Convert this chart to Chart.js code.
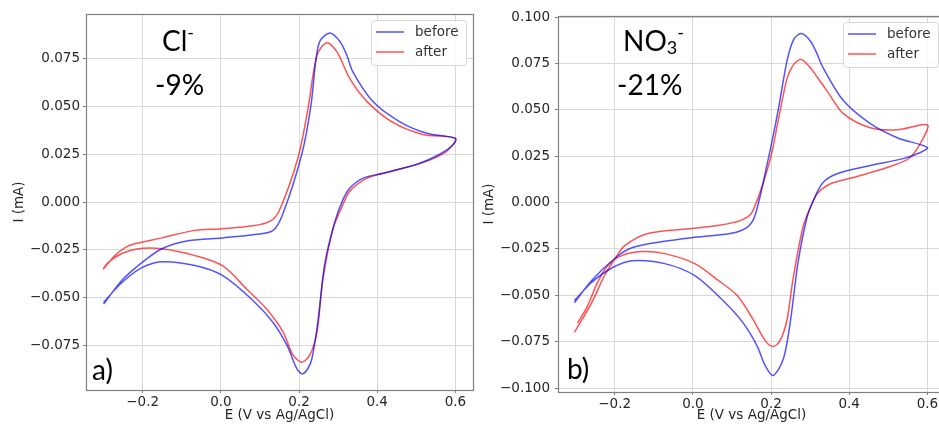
<!DOCTYPE html>
<html>
<head>
<meta charset="utf-8">
<script src="https://cdn.jsdelivr.net/npm/chart.js@4/dist/chart.umd.min.js"></script>
<style>
  html, body { margin: 0; padding: 0; background: #fff; overflow: hidden; width: 939px; height: 424px; }
  canvas { position: absolute; top: 0; }
  #chartCl { left: 0; }
  #chartNo3 { left: 476px; }
</style>
</head>
<body>
<canvas id="chartCl" width="476" height="424"></canvas>
<canvas id="chartNo3" width="472" height="424"></canvas>
<script>
// Cl- panel, forward scan then reverse scan (E in V, I in mA)
const clBeforeE = [-0.300, -0.253, -0.202, -0.151, -0.084, 0.005, 0.082, 0.133, 0.159, 0.207, 0.230, 0.2435, 0.254, 0.279, 0.305, 0.322, 0.338, 0.389, 0.458, 0.527, 0.600, 0.594, 0.560, 0.502, 0.415, 0.364, 0.330, 0.313, 0.292, 0.266, 0.248, 0.233, 0.222, 0.210, 0.200, 0.190, 0.169, 0.133, 0.082, 0.005, -0.066, -0.151, -0.202, -0.253, -0.300];
const clBeforeI = [-0.0535, -0.041, -0.0318, -0.0245, -0.0203, -0.0188, -0.0172, -0.015, -0.006, 0.025, 0.050, 0.075, 0.0845, 0.0886, 0.084, 0.077, 0.068, 0.0526, 0.042, 0.036, 0.0333, 0.030, 0.025, 0.0198, 0.0151, 0.0125, 0.0073, 0.0015, -0.010, -0.032, -0.063, -0.082, -0.0875, -0.090, -0.089, -0.0855, -0.075, -0.063, -0.0516, -0.0386, -0.0333, -0.0313, -0.0344, -0.0422, -0.0525];
const clAfterE = [-0.301, -0.271, -0.246, -0.220, -0.151, -0.071, 0.001, 0.082, 0.126, 0.149, 0.197, 0.223, 0.246, 0.271, 0.297, 0.330, 0.374, 0.440, 0.517, 0.600, 0.578, 0.527, 0.440, 0.374, 0.330, 0.313, 0.287, 0.261, 0.246, 0.228, 0.207, 0.184, 0.159, 0.118, 0.067, 0.005, -0.066, -0.151, -0.212, -0.253, -0.289, -0.301];
const clAfterI = [-0.0352, -0.0281, -0.024, -0.0219, -0.0188, -0.015, -0.014, -0.0125, -0.010, -0.0047, 0.0229, 0.049, 0.077, 0.0834, 0.0787, 0.0646, 0.0526, 0.0417, 0.0354, 0.0333, 0.0266, 0.0214, 0.0162, 0.0125, 0.0057, -0.001, -0.014, -0.0406, -0.068, -0.080, -0.0839, -0.080, -0.068, -0.0563, -0.0458, -0.0335, -0.0281, -0.0245, -0.0245, -0.027, -0.0318, -0.0349];

// NO3- panel
const no3BeforeE = [-0.303, -0.259, -0.197, -0.156, -0.077, -0.003, 0.095, 0.138, 0.159, 0.192, 0.218, 0.241, 0.258, 0.277, 0.300, 0.316, 0.333, 0.385, 0.454, 0.523, 0.600, 0.582, 0.538, 0.454, 0.369, 0.333, 0.308, 0.292, 0.269, 0.249, 0.231, 0.205, 0.185, 0.164, 0.128, 0.077, 0.005, -0.072, -0.156, -0.205, -0.259, -0.295, -0.303];
const no3BeforeI = [-0.054, -0.042, -0.0296, -0.0243, -0.021, -0.0189, -0.0167, -0.0135, -0.007, 0.0226, 0.0496, 0.0765, 0.088, 0.0911, 0.0873, 0.081, 0.0728, 0.055, 0.0426, 0.035, 0.0297, 0.027, 0.0237, 0.020, 0.0156, 0.0108, 0.001, -0.008, -0.0323, -0.0647, -0.0846, -0.0932, -0.0879, -0.0771, -0.0647, -0.0528, -0.0394, -0.0329, -0.0313, -0.035, -0.043, -0.051, -0.0528];
const no3AfterE = [-0.303, -0.259, -0.226, -0.197, -0.174, -0.115, -0.003, 0.062, 0.121, 0.151, 0.197, 0.218, 0.241, 0.258, 0.277, 0.300, 0.321, 0.344, 0.385, 0.454, 0.523, 0.600, 0.590, 0.556, 0.497, 0.410, 0.351, 0.318, 0.305, 0.282, 0.256, 0.241, 0.223, 0.205, 0.185, 0.154, 0.113, 0.062, 0.005, -0.072, -0.131, -0.182, -0.218, -0.244, -0.269, -0.295];
const no3AfterI = [-0.070, -0.054, -0.0393, -0.0296, -0.0232, -0.0167, -0.014, -0.0124, -0.0097, -0.0054, 0.0226, 0.044, 0.067, 0.0745, 0.0771, 0.0728, 0.0668, 0.060, 0.048, 0.0404, 0.0393, 0.042, 0.035, 0.0243, 0.0189, 0.0135, 0.010, 0.0048, -0.0005, -0.013, -0.0415, -0.063, -0.0744, -0.0776, -0.0744, -0.063, -0.050, -0.0415, -0.0329, -0.0275, -0.0264, -0.0286, -0.034, -0.043, -0.0555, -0.065];

const potentialTicks = [-0.2, 0, 0.2, 0.4, 0.6];
const clCurrentTicks = [-0.075, -0.05, -0.025, 0, 0.025, 0.05, 0.075];
const no3CurrentTicks = [-0.1, -0.075, -0.05, -0.025, 0, 0.025, 0.05, 0.075, 0.1];
const seriesLabels = ["before", "after"];
const seriesColors = ["rgba(0, 0, 255, 0.68)", "rgba(255, 0, 0, 0.68)"];

const toPoints = (es, is) => es.map((e, k) => ({ x: e, y: is[k] }));
const fmt = (v, d) => (v < 0 ? "\u2212" : "") + Math.abs(v).toFixed(d);

const axisFont = { family: "DejaVu Sans", size: 13.5 };
const textColor = "#262626";
const gridColor = "#d8d8d8";
const spineColor = "#808080";

// frame, legend and the big labels drawn on top of the curves
const panelDecor = {
  id: "panelDecor",
  afterDatasetsDraw(chart, args, o) {
    const { ctx, chartArea: a } = chart;
    ctx.save();
    ctx.strokeStyle = spineColor;
    ctx.lineWidth = 1.2;
    ctx.strokeRect(Math.round(a.left) + 0.5, Math.round(a.top) + 0.5, Math.round(a.right - a.left), Math.round(a.bottom - a.top));

    // legend box
    const bx = a.right - 7 - 95, by = a.top + 6;
    ctx.fillStyle = "rgba(255,255,255,0.85)";
    ctx.strokeStyle = "#d6d6d6";
    ctx.lineWidth = 1;
    ctx.beginPath();
    ctx.roundRect(bx + 0.5, by + 0.5, 95, 45, 3);
    ctx.fill();
    ctx.stroke();
    ctx.font = "13.5px 'DejaVu Sans'";
    ctx.textBaseline = "middle";
    chart.data.datasets.forEach((ds, k) => {
      const ly = by + 12 + k * 20;
      ctx.strokeStyle = ds.borderColor;
      ctx.lineWidth = 1.5;
      ctx.beginPath();
      ctx.moveTo(bx + 5, ly);
      ctx.lineTo(bx + 33, ly);
      ctx.stroke();
      ctx.fillStyle = "#333";
      ctx.fillText(ds.label, bx + 44, ly);
    });

    // ion name with sub/superscripts, change, panel tag
    ctx.fillStyle = "#000";
    ctx.textBaseline = "alphabetic";
    let x = a.left + o.titleX;
    o.title.forEach((p) => {
      ctx.font = (p.s || 28) + "px Lato";
      ctx.fillText(p.t, x, a.top + o.titleY + (p.dy || 0));
      x += ctx.measureText(p.t).width + (p.gap || 0);
    });
    ctx.font = "28px Lato";
    ctx.fillText(o.change, a.left + o.changeX, a.top + o.changeY);
    ctx.fillText(o.tag, a.left + o.tagX, a.bottom - o.tagY);
    ctx.restore();
  },
};

const makePanel = (id, before, after, yTicks, yMin, yMax, lay, deco) =>
  new Chart(document.getElementById(id), {
    type: "scatter",
    data: {
      datasets: [before, after].map((pts, k) => ({
        label: seriesLabels[k],
        data: pts,
        showLine: true,
        borderColor: seriesColors[k],
        borderWidth: 1.5,
        pointRadius: 0,
        tension: 0.3,
        fill: false,
      })),
    },
    options: {
      responsive: false,
      animation: false,
      devicePixelRatio: 1,
      layout: { padding: { left: 0, top: lay.top, right: 3, bottom: 0 } },
      plugins: { legend: { display: false }, tooltip: { enabled: false }, panelDecor: deco },
      scales: {
        x: {
          type: "linear",
          min: -0.345,
          max: 0.645,
          afterBuildTicks: (s) => { s.ticks = potentialTicks.map((v) => ({ value: v })); },
          afterFit: (s) => { s.height = lay.xh; },
          ticks: { callback: (v) => fmt(v, 1), color: textColor, font: axisFont, padding: 1, maxRotation: 0, autoSkip: false },
          grid: { color: gridColor, tickColor: spineColor, tickLength: 3 },
          border: { display: false },
          title: { display: true, text: "E (V vs Ag/AgCl)", color: textColor, font: axisFont, padding: { top: 0, bottom: 0 } },
        },
        y: {
          type: "linear",
          min: yMin,
          max: yMax,
          afterBuildTicks: (s) => { s.ticks = yTicks.map((v) => ({ value: v })); },
          afterFit: (s) => { s.width = lay.yw; },
          ticks: { callback: (v) => fmt(v, 3), color: textColor, font: axisFont, padding: lay.tp, autoSkip: false },
          grid: { color: gridColor, tickColor: spineColor, tickLength: 3 },
          border: { display: false },
          title: { display: true, text: "I (mA)", color: textColor, font: axisFont, padding: { top: lay.tt, bottom: 0 } },
        },
      },
    },
    plugins: [panelDecor],
  });

makePanel("chartCl", toPoints(clBeforeE, clBeforeI), toPoints(clAfterE, clAfterI), clCurrentTicks, -0.0985, 0.0985,
  { top: 14, xh: 34, yw: 86, tp: 3, tt: 11 },
  { title: [{ t: "Cl" }, { t: "-", s: 18, dy: -12 }], titleX: 76, titleY: 37, change: "-9%", changeX: 69, changeY: 81, tag: "a)", tagX: 6, tagY: 10 });

makePanel("chartNo3", toPoints(no3BeforeE, no3BeforeI), toPoints(no3AfterE, no3AfterI), no3CurrentTicks, -0.1021, 0.1006,
  { top: 16, xh: 32, yw: 82, tp: 5, tt: 5 },
  { title: [{ t: "NO" }, { t: "3", s: 18, dy: 3 }, { t: "-", s: 18, dy: -12 }], titleX: 65, titleY: 35, change: "-21%", changeX: 59, changeY: 79, tag: "b)", tagX: 9, tagY: 13 });
</script>
</body>
</html>
